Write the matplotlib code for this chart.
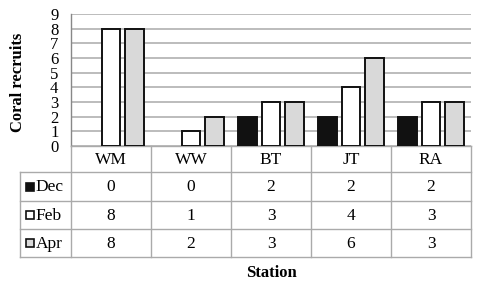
import matplotlib
matplotlib.use("Agg")
import matplotlib.pyplot as plt
from matplotlib.patches import Rectangle

stations = ["WM", "WW", "BT", "JT", "RA"]
months = ["Dec", "Feb", "Apr"]
dec = [0, 0, 2, 2, 2]
feb = [8, 1, 3, 4, 3]
apr = [8, 2, 3, 6, 3]
series = [dec, feb, apr]
colors = ["#111111", "#ffffff", "#d9d9d9"]
yticks = list(range(0, 10))

plt.rcParams['font.family'] = ['Liberation Serif', 'DejaVu Serif']

W, H = 480, 284
fig = plt.figure(figsize=(W / 100, H / 100), dpi=100)
fig.patch.set_facecolor("white")

def fx(px):
    return px / W

def fy(py):
    return 1 - py / H

ax_l, ax_r, ax_t, ax_b = 71, 471, 14, 146
ax = fig.add_axes([fx(ax_l), fy(ax_b), fx(ax_r) - fx(ax_l), fy(ax_t) - fy(ax_b)])

n = len(stations)
offsets = [-0.295, 0.0, 0.29]
width = 0.235
for s, vals, c, off in zip(months, series, colors, offsets):
    xs = [i + 0.5 + off for i in range(n)]
    lws = [1.4 if v > 0 else 0 for v in vals]
    ax.bar(xs, vals, width=width, color=c, edgecolor="#111111", linewidth=lws, zorder=3)

ax.set_xlim(0, n)
ax.set_ylim(0, 9)
ax.set_yticks(yticks)
ax.set_yticklabels([str(t) for t in yticks], fontsize=12)
ax.tick_params(axis='y', length=0, pad=9)
ax.set_xticks([])
ax.grid(axis='y', color="#aaaaaa", linewidth=1.1, zorder=0)
for sp in ["top", "right"]:
    ax.spines[sp].set_visible(False)
ax.spines["left"].set_color("#888888")
ax.spines["bottom"].set_color("#aaaaaa")
for s in ["left", "bottom"]:
    ax.spines[s].set_linewidth(1.0)

fig.text(fx(18), fy(82), "Coral recruits", rotation=90, ha="center", va="center",
         fontsize=12, fontweight="bold")

# table
tax = fig.add_axes([0, 0, 1, 1])
tax.set_xlim(0, W)
tax.set_ylim(H, 0)
tax.axis("off")
lc = "#aaaaaa"
lw = 1.0
tl, tr = 20, 471
hy0, hy1 = 146, 172
row_y = [172, 201, 229, 257]
col_x = [ax_l + (ax_r - ax_l) * i / n for i in range(n + 1)]

for x in col_x:
    tax.plot([x, x], [hy0, row_y[-1]], color=lc, lw=lw)
tax.plot([tl, tl], [row_y[0], row_y[-1]], color=lc, lw=lw)
for y in row_y:
    tax.plot([tl, tr], [y, y], color=lc, lw=lw)

for i, st in enumerate(stations):
    cx = (col_x[i] + col_x[i + 1]) / 2
    tax.text(cx, (hy0 + hy1) / 2 + 1, st, ha="center", va="center", fontsize=12.5)

for r, (m, vals, c) in enumerate(zip(months, series, colors)):
    cy = (row_y[r] + row_y[r + 1]) / 2
    tax.add_patch(Rectangle((25.5, cy - 4), 8, 8, facecolor=c, edgecolor="#111111", lw=1.2))
    tax.text(35.5, cy + 0.5, m, ha="left", va="center", fontsize=12.5)
    for i, v in enumerate(vals):
        cx = (col_x[i] + col_x[i + 1]) / 2
        tax.text(cx, cy + 0.5, str(v), ha="center", va="center", fontsize=12.5)

tax.text(271, 273, "Station", ha="center", va="center", fontsize=12, fontweight="bold")

fig.savefig("out.png", dpi=100)
